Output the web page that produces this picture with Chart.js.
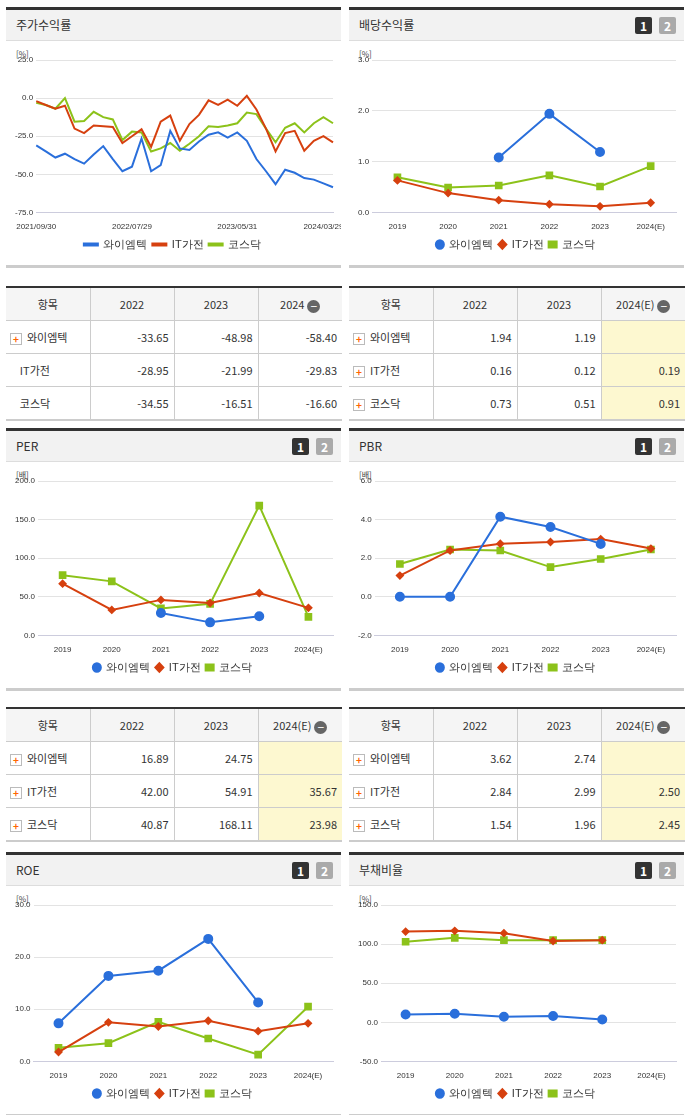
<!DOCTYPE html>
<html><head><meta charset="utf-8">
<script src="https://cdn.jsdelivr.net/npm/chart.js@4"></script>
<style>
body{margin:0;background:#fff;font-family:"Noto Sans CJK KR","Noto Sans",sans-serif;color:#333;}
.panel{position:absolute;width:335px;border-top:3px solid #333;}
.hd{height:30px;background:#f2f2f2;border-bottom:1px solid #ddd;font-size:12px;line-height:30px;padding-left:10px;position:relative}
.btn{position:absolute;top:7px;width:17px;height:17px;color:#fff;font-size:12px;font-weight:bold;line-height:17px;text-align:center;border-radius:2px}
.b1{right:32px;background:#333}.b2{right:8px;background:#aaa}
.unit{position:absolute;font-size:8px;left:10px;top:38px;color:#444}
.cv{position:absolute;left:0;top:42px;width:335px}
.foot{position:absolute;left:0;bottom:0;width:335px;border-bottom:3px solid #ccc}
table{position:absolute;width:336px;table-layout:fixed;border-collapse:collapse;font-size:11px;border-top:2px solid #333;border-bottom:2px solid #ccc}
th{background:#f5f5f5;font-weight:normal;height:30px;border-left:1px solid #ccc;border-bottom:1px solid #ccc}
td{height:30px;border-left:1px solid #ccc;border-bottom:1px solid #ccc;text-align:right;padding-right:5px}
th:first-child,td:first-child{border-left:none}
td:first-child{text-align:left;padding-left:4px}
td.y{background:#fdf8d0}
.pl{display:inline-block;width:10px;height:10px;border:1px solid #bbb;color:#f60;font-size:10px;line-height:9px;text-align:center;margin-right:5px;vertical-align:-1px;font-weight:bold}
.mi{display:inline-block;width:13px;height:13px;border-radius:50%;background:#666;color:#fff;line-height:12px;text-align:center;font-size:12px;margin-left:3px;vertical-align:-2px}
</style></head><body>
<script>
const names=['와이엠텍','IT가전','코스닥'];
const colors=['#2a6fdb','#d6400f','#8cc21a'];
const years=['2019','2020','2021','2022','2023','2024(E)'];
const dateLabels=['2021/09/30','','','','','','','','','','2022/07/29','','','','','','','','','','','2023/05/31','','','','','','','','','2024/03/29',''];
const retYm=[-31,-35,-39,-36.5,-40,-43,-37,-31.5,-40,-48,-45,-26.5,-48,-44,-21.5,-33,-34,-28.5,-24,-22.5,-26,-22.5,-28,-40,-48,-56.5,-47,-49,-52.5,-53.5,-56,-58.5];
const retIt=[-2,-4.5,-7,-5,-20,-23,-18,-18.5,-19,-29.5,-25,-20.5,-32,-15.5,-11.5,-28,-17,-11,-1.5,-4.5,-1,-5,1.5,-7.5,-20,-35,-23,-21.5,-34.5,-28,-25,-29];
const retKq=[-3,-4.5,-7,0,-15.5,-15,-9,-12.5,-14,-27.5,-22,-22.5,-35,-33,-29.5,-34.5,-30,-25,-18.5,-19,-18,-16.5,-9.5,-10.5,-20,-29,-19.5,-16.5,-22.5,-16.5,-12.5,-16.5];
const divYm=[null,null,1.08,1.94,1.19,null],divIt=[0.63,0.38,0.24,0.16,0.12,0.19],divKq=[0.69,0.49,0.53,0.73,0.51,0.91];
const perYm=[null,null,29,16.89,24.75,null],perIt=[67,33,46,42,54.91,35.67],perKq=[78,70,35,40.87,168.11,23.98];
const pbrYm=[0,0,4.15,3.62,2.74,null],pbrIt=[1.1,2.4,2.75,2.84,2.99,2.50],pbrKq=[1.7,2.45,2.4,1.54,1.96,2.45];
const roeYm=[7.3,16.4,17.4,23.5,11.3,null],roeIt=[1.8,7.5,6.7,7.8,5.8,7.3],roeKq=[2.6,3.5,7.6,4.4,1.3,10.5];
const debtYm=[10,11,7,8,3.5,null],debtIt=[116,117,114,104,105,null],debtKq=[103,108,105,105,105,null];

function panel(x,y,h,title,unit,btns){
  const d=document.createElement('div');d.className='panel';d.style.left=x+'px';d.style.top=y+'px';d.style.height=h+'px';
  d.innerHTML='<div class="hd">'+title+(btns?'<span class="btn b1">1</span><span class="btn b2">2</span>':'')+'</div><div class="unit">'+unit+'</div><div class="cv" style="height:'+(h-50)+'px"><canvas></canvas></div><div class="foot"></div>';
  document.body.appendChild(d);return d.querySelector('canvas');
}
function chart(cv,labels,sets,min,max,step,line){
  const styles=['circle','rectRot','rect'];
  new Chart(cv,{type:'line',data:{labels:labels,datasets:sets.map((s,i)=>({label:names[i],data:s,borderColor:colors[i],backgroundColor:colors[i],borderWidth:2,tension:0,
    pointRadius:line?0:(i==1?3:4),pointStyle:styles[i],spanGaps:false}))},
   options:{responsive:true,maintainAspectRatio:false,animation:false,
    layout:{padding:{left:6,right:8,top:8}},
    plugins:{legend:{position:'bottom',labels:{font:{size:11},color:'#333',boxWidth:line?14:6,boxHeight:line?2:6,padding:5,usePointStyle:!line,pointStyleWidth:8}}},
    scales:{x:{offset:!line,grid:{display:false},border:{color:'#ccd'},ticks:{autoSkip:false,maxRotation:0,padding:2,font:{size:8},color:'#333'}},
      y:{min:min,max:max,ticks:{stepSize:step,font:{size:8},color:'#333',callback:v=>v.toFixed(1)},grid:{color:'#e3e3e3',drawTicks:false},border:{display:false}}}}});
}
function table(x,y,head,rows,est,icons){
  const t=document.createElement('table');t.style.left=x+'px';t.style.top=y+'px';
  let h='<tr><th>항목</th><th>2022</th><th>2023</th><th>'+head+'<span class="mi">−</span></th></tr>';
  rows.forEach((r,i)=>{h+='<tr><td>'+(icons[i]?'<span class="pl">+</span>':'&nbsp;&nbsp;&nbsp;&nbsp;')+names[i]+'</td><td>'+r[0]+'</td><td>'+r[1]+'</td><td'+(est?' class="y"':'')+'>'+r[2]+'</td></tr>';});
  t.innerHTML=h;document.body.appendChild(t);
}
chart(panel(6,7,258,'주가수익률','[%]',false),dateLabels,[retYm,retIt,retKq],-75,25,25,true);
chart(panel(349,7,258,'배당수익률','[%]',true),years,[divYm,divIt,divKq],0,3,1,false);
chart(panel(6,428,260,'PER','[배]',true),years,[perYm,perIt,perKq],0,200,50,false);
chart(panel(349,428,260,'PBR','[배]',true),years,[pbrYm,pbrIt,pbrKq],-2,6,2,false);
chart(panel(6,852,262,'ROE','[%]',true),years,[roeYm,roeIt,roeKq],0,30,10,false);
chart(panel(349,852,262,'부채비율','[%]',true),years,[debtYm,debtIt,debtKq],-50,150,50,false);
table(6,286,'2024',[['-33.65','-48.98','-58.40'],['-28.95','-21.99','-29.83'],['-34.55','-16.51','-16.60']],false,[1,0,0]);
table(349,286,'2024(E)',[['1.94','1.19',''],['0.16','0.12','0.19'],['0.73','0.51','0.91']],true,[1,1,1]);
table(6,707,'2024(E)',[['16.89','24.75',''],['42.00','54.91','35.67'],['40.87','168.11','23.98']],true,[1,1,1]);
table(349,707,'2024(E)',[['3.62','2.74',''],['2.84','2.99','2.50'],['1.54','1.96','2.45']],true,[1,1,1]);
</script>
</body></html>
